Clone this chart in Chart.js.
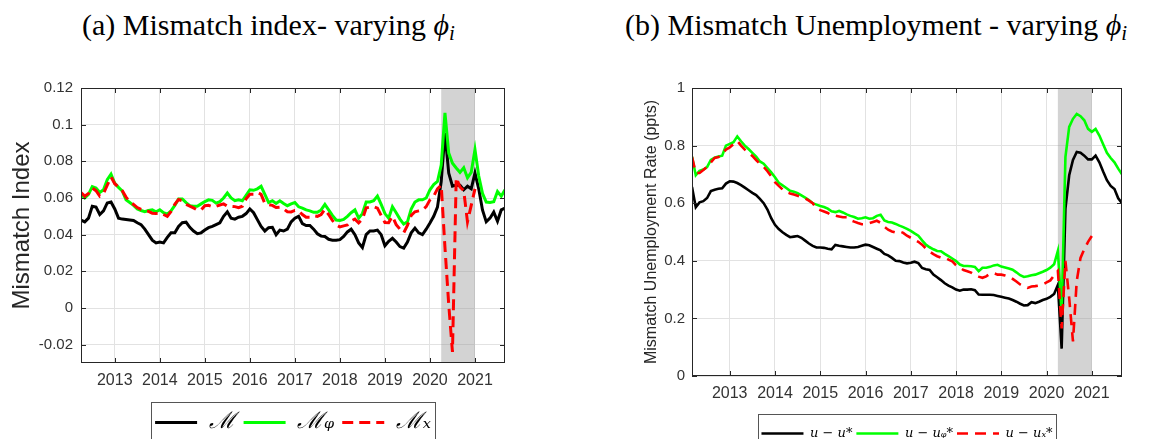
<!DOCTYPE html>
<html>
<head>
<meta charset="utf-8">
<script src="https://cdn.jsdelivr.net/npm/chart.js@4.4.1/dist/chart.umd.min.js"></script>
<style>
  html, body { margin: 0; padding: 0; background: #fff; }
  body { position: relative; width: 1166px; height: 439px; overflow: hidden; }
  .title { position: absolute; top: 10px; font-family: 'Liberation Serif', serif; font-size: 30px; line-height: 1; color: #000; white-space: nowrap; }
  .title sub { font-size: 0.7em; font-style: italic; vertical-align: -0.25em; line-height: 0; }
  canvas { position: absolute; top: 0; }
</style>
</head>
<body>
<div class="title" style="left:82px">(a) Mismatch index- varying <i>ϕ</i><sub>i</sub></div>
<div class="title" style="left:625px">(b) Mismatch Unemployment - varying <i>ϕ</i><sub>i</sub></div>
<canvas id="leftChart" style="left:0" width="560" height="444"></canvas>
<canvas id="rightChart" style="left:590px" width="576" height="450"></canvas>
<script>
// ---- data: monthly, left panel from Apr 2012, right panel from Mar 2012 ----
const leftStart = [2012, 4];
const rightStart = [2012, 3];
const yearTicks = [2013, 2014, 2015, 2016, 2017, 2018, 2019, 2020, 2021];
const leftYTicks = [-0.02, 0, 0.02, 0.04, 0.06, 0.08, 0.1, 0.12];
const rightYTicks = [0, 0.2, 0.4, 0.6, 0.8, 1];
const covidShade = [2020.25, 2021.0];

const leftLabels = ['ℳ', 'ℳᵩ', 'ℳₓ'];
const rightLabels = ['u − u*', 'u − uᵩ*', 'u − uₓ*'];

// Mismatch index
const leftM = [
  0.048, 0.047, 0.049, 0.0555, 0.055, 0.051, 0.053, 0.0573, 0.0578, 0.054,
  0.049, 0.0485, 0.0483, 0.048, 0.0477, 0.0465, 0.0455, 0.043, 0.040, 0.037,
  0.0355, 0.036, 0.0355, 0.0385, 0.041, 0.041, 0.0445, 0.0465, 0.0468, 0.044,
  0.042, 0.0405, 0.041, 0.0425, 0.0438, 0.0445, 0.0455, 0.0465, 0.050, 0.0525,
  0.049, 0.0485, 0.0495, 0.050, 0.0515, 0.054, 0.052, 0.0482, 0.0445, 0.042,
  0.0438, 0.044, 0.040, 0.0425, 0.042, 0.043, 0.047, 0.049, 0.050, 0.046,
  0.045, 0.045, 0.043, 0.0405, 0.0392, 0.039, 0.0375, 0.037, 0.037, 0.0373,
  0.039, 0.0415, 0.043, 0.040, 0.0355, 0.033, 0.040, 0.042, 0.042, 0.0425,
  0.040, 0.034, 0.0364, 0.038, 0.036, 0.0335, 0.0327, 0.036, 0.041, 0.0436,
  0.041, 0.040, 0.043, 0.0464, 0.050, 0.055, 0.069, 0.0955, 0.0736, 0.0665,
  0.067, 0.067, 0.0645, 0.0664, 0.065, 0.0736, 0.065, 0.0535, 0.047, 0.049,
  0.0523, 0.0473, 0.0535, 0.0545
];
const leftPhi = [
  0.062, 0.060, 0.062, 0.0662, 0.0655, 0.063, 0.0645, 0.070, 0.073, 0.068,
  0.0658, 0.0638, 0.059, 0.0575, 0.056, 0.054, 0.0532, 0.0525, 0.0532, 0.0535,
  0.0525, 0.0536, 0.052, 0.0512, 0.053, 0.056, 0.0595, 0.0595, 0.0575, 0.0558,
  0.0555, 0.0555, 0.0568, 0.058, 0.059, 0.0587, 0.0572, 0.058, 0.060, 0.0627,
  0.060, 0.0585, 0.059, 0.0585, 0.0615, 0.0645, 0.0642, 0.065, 0.0664, 0.062,
  0.0575, 0.0585, 0.057, 0.0585, 0.057, 0.0558, 0.0568, 0.0575, 0.0552, 0.0545,
  0.0535, 0.053, 0.0522, 0.0522, 0.0535, 0.0565, 0.0535, 0.0505, 0.048, 0.0478,
  0.0483, 0.050, 0.052, 0.0535, 0.049, 0.0515, 0.0578, 0.0578, 0.0585, 0.061,
  0.0565, 0.0515, 0.049, 0.0552, 0.052, 0.0485, 0.0458, 0.047, 0.054, 0.0578,
  0.059, 0.059, 0.060, 0.0645, 0.0673, 0.069, 0.078, 0.1064, 0.0845, 0.079,
  0.0764, 0.074, 0.0765, 0.071, 0.074, 0.0864, 0.072, 0.0625, 0.0578, 0.0576,
  0.058, 0.0635, 0.061, 0.0645
];
const leftX = [
  0.063, 0.061, 0.0625, 0.0655, 0.064, 0.061, 0.0625, 0.067, 0.0715, 0.0678,
  0.066, 0.064, 0.0605, 0.058, 0.0565, 0.0548, 0.0538, 0.0532, 0.0527, 0.0517,
  0.0515, 0.0518, 0.051, 0.050, 0.0527, 0.0565, 0.0592, 0.0585, 0.0565, 0.0556,
  0.0546, 0.0534, 0.0535, 0.0558, 0.056, 0.0553, 0.0555, 0.0562, 0.0568, 0.0555,
  0.0555, 0.0553, 0.0547, 0.0555, 0.0595, 0.062, 0.062, 0.063, 0.062, 0.057,
  0.0564, 0.056, 0.0548, 0.055, 0.054, 0.0525, 0.0524, 0.0532, 0.053, 0.051,
  0.0495, 0.0495, 0.0503, 0.050, 0.051, 0.0538, 0.051, 0.0478, 0.0453, 0.0442,
  0.0448, 0.0453, 0.0475, 0.0485, 0.0464, 0.0485, 0.0546, 0.055, 0.0553, 0.0545,
  0.0505, 0.0466, 0.0465, 0.050, 0.0455, 0.043, 0.041, 0.045, 0.0505, 0.0525,
  0.053, 0.0535, 0.0553, 0.059, 0.061, 0.065, 0.067, 0.033, 0.002, -0.024,
  0.071, 0.066, 0.064, 0.047, 0.056, 0.065, null, null, null, null,
  null, null, null, null
];

// Mismatch unemployment (ppts)
const rightU = [
  0.656, 0.586, 0.603, 0.607, 0.618, 0.642, 0.647, 0.650, 0.652, 0.668,
  0.676, 0.675, 0.670, 0.663, 0.654, 0.645, 0.636, 0.628, 0.615, 0.600,
  0.578, 0.548, 0.525, 0.510, 0.499, 0.490, 0.482, 0.484, 0.486, 0.480,
  0.470, 0.460, 0.452, 0.446, 0.446, 0.445, 0.442, 0.440, 0.455, 0.452,
  0.450, 0.448, 0.446, 0.446, 0.448, 0.452, 0.456, 0.454, 0.448, 0.442,
  0.436, 0.424, 0.419, 0.410, 0.400, 0.399, 0.394, 0.391, 0.393, 0.397,
  0.392, 0.375, 0.371, 0.368, 0.352, 0.343, 0.333, 0.322, 0.314, 0.308,
  0.300, 0.296, 0.300, 0.300, 0.301, 0.298, 0.283, 0.282, 0.282, 0.282,
  0.281, 0.278, 0.275, 0.272, 0.269, 0.264, 0.258, 0.251, 0.245, 0.246,
  0.256, 0.253, 0.258, 0.264, 0.268, 0.275, 0.285, 0.316, 0.095, 0.580,
  0.697, 0.750, 0.778, 0.775, 0.765, 0.752, 0.752, 0.765, 0.742, 0.710,
  0.680, 0.660, 0.649, 0.617, 0.600
];
const rightPhi = [
  0.761, 0.697, 0.712, 0.717, 0.725, 0.750, 0.758, 0.762, 0.765, 0.800,
  0.806, 0.812, 0.832, 0.815, 0.800, 0.788, 0.775, 0.762, 0.745, 0.737,
  0.722, 0.707, 0.690, 0.671, 0.662, 0.653, 0.643, 0.640, 0.635, 0.627,
  0.619, 0.611, 0.600, 0.595, 0.590, 0.587, 0.581, 0.572, 0.569, 0.573,
  0.568, 0.561, 0.556, 0.552, 0.546, 0.548, 0.551, 0.546, 0.548, 0.556,
  0.560, 0.540, 0.535, 0.533, 0.528, 0.522, 0.517, 0.511, 0.504, 0.495,
  0.487, 0.471, 0.456, 0.447, 0.440, 0.434, 0.433, 0.424, 0.416, 0.408,
  0.399, 0.387, 0.382, 0.382, 0.381, 0.379, 0.364, 0.376, 0.376, 0.379,
  0.384, 0.386, 0.380, 0.377, 0.373, 0.369, 0.360, 0.350, 0.344, 0.346,
  0.350, 0.352, 0.357, 0.362, 0.368, 0.376, 0.388, 0.435, 0.215, 0.760,
  0.865, 0.893, 0.910, 0.902, 0.888, 0.858, 0.848, 0.858, 0.835, 0.805,
  0.775, 0.757, 0.742, 0.720, 0.700
];
const rightX = [
  0.761, 0.705, 0.705, 0.715, 0.726, 0.742, 0.757, 0.760, 0.772, 0.786,
  0.794, 0.805, 0.816, 0.800, 0.786, 0.775, 0.764, 0.750, 0.737, 0.726,
  0.711, 0.693, 0.673, 0.660, 0.648, 0.639, 0.634, 0.630, 0.626, 0.621,
  0.617, 0.609, 0.600, 0.582, 0.576, 0.571, 0.566, 0.557, 0.557, 0.554,
  0.551, 0.551, 0.541, 0.536, 0.531, 0.527, 0.527, 0.531, 0.535, 0.539,
  0.532, 0.518, 0.508, 0.502, 0.498, 0.502, 0.497, 0.487, 0.480, 0.473,
  0.466, 0.456, 0.443, 0.432, 0.423, 0.416, 0.411, 0.411, 0.404, 0.398,
  0.385, 0.376, 0.368, 0.364, 0.359, 0.351, 0.345, 0.341, 0.346, 0.355,
  0.357, 0.352, 0.352, 0.349, 0.345, 0.337, 0.328, 0.318, 0.311, 0.306,
  0.311, 0.312, 0.314, 0.318, 0.325, 0.332, 0.350, 0.365, 0.165, 0.400,
  0.270, 0.120, 0.330, 0.410, 0.440, 0.466, 0.486, null, null, null,
  null, null, null, null, null
];

// ---- drawing helpers ----
const axisColor = '#262626';
const gridColor = '#e2e2e2';

function monthX(start, i) {
  return start[0] + (start[1] - 1 + i) / 12;
}

function toPoints(start, values) {
  return values.map((v, i) => ({ x: monthX(start, i), y: v }));
}

// grey band for the shaded period
const shadePlugin = {
  id: 'shade',
  beforeDatasetsDraw(chart, args, opts) {
    const { ctx, chartArea: a, scales: { x } } = chart;
    const x0 = x.getPixelForValue(opts.from);
    const x1 = x.getPixelForValue(opts.to);
    ctx.save();
    ctx.fillStyle = opts.color;
    ctx.fillRect(x0, a.top, x1 - x0, a.bottom - a.top);
    ctx.restore();
  }
};

// matlab style box with inward tick marks
const axesBoxPlugin = {
  id: 'axesBox',
  afterDatasetsDraw(chart) {
    const { ctx, chartArea: a, scales: { x, y } } = chart;
    const len = 5;
    ctx.save();
    ctx.strokeStyle = axisColor;
    ctx.lineWidth = 1;
    ctx.beginPath();
    x.ticks.forEach(t => {
      const px = Math.round(x.getPixelForValue(t.value)) + 0.5;
      ctx.moveTo(px, a.bottom); ctx.lineTo(px, a.bottom - len);
      ctx.moveTo(px, a.top); ctx.lineTo(px, a.top + len);
    });
    y.ticks.forEach(t => {
      const py = Math.round(y.getPixelForValue(t.value)) + 0.5;
      ctx.moveTo(a.left, py); ctx.lineTo(a.left + len, py);
      ctx.moveTo(a.right, py); ctx.lineTo(a.right - len, py);
    });
    ctx.stroke();
    ctx.strokeRect(Math.round(a.left) + 0.5, Math.round(a.top) + 0.5,
      Math.round(a.right - a.left) - 1, Math.round(a.bottom - a.top) - 1);
    ctx.restore();
  }
};

// frame around the legend (bottom edge falls off the page)
const legendFramePlugin = {
  id: 'legendFrame',
  afterDraw(chart, args, opts) {
    const lg = chart.legend;
    const hb = lg && lg.legendHitBoxes;
    if (!hb || !hb.length) return;
    const first = hb[0];
    const last = hb[hb.length - 1];
    const left = Math.round(first.left - opts.padX) + 0.5;
    const right = Math.round(last.left + last.width + opts.padX) + 0.5;
    const top = Math.round(lg.top + opts.offsetTop) + 0.5;
    const ctx = chart.ctx;
    ctx.save();
    ctx.strokeStyle = '#555';
    ctx.lineWidth = 1;
    ctx.strokeRect(left, top, right - left, chart.height - top + 20);
    ctx.restore();
  }
};

function makeChart(canvasId, s) {
  const colors = ['#000000', '#00ff00', '#ff0000'];
  const datasets = s.series.map((vals, k) => ({
    label: s.labels[k],
    data: toPoints(s.start, vals),
    borderColor: colors[k],
    backgroundColor: colors[k],
    borderWidth: s.lineWidth,
    borderDash: k === 2 ? s.dash : [],
    pointRadius: 0,
    tension: 0,
    spanGaps: false,
    order: 3 - k
  }));
  const xMin = monthX(s.start, 0);
  const xMax = monthX(s.start, s.series[0].length - 1);

  return new Chart(document.getElementById(canvasId), {
    type: 'line',
    data: { datasets },
    options: {
      responsive: false,
      animation: false,
      layout: { padding: s.padding },
      scales: {
        x: {
          type: 'linear',
          min: xMin,
          max: xMax,
          afterBuildTicks: sc => { sc.ticks = yearTicks.map(v => ({ value: v })); },
          afterFit: sc => { sc.height = s.xHeight; },
          ticks: {
            autoSkip: false,
            maxRotation: 0,
            padding: 8,
            color: '#333',
            font: { family: "'Liberation Sans', Arial, sans-serif", size: 16 },
            callback: v => String(v)
          },
          grid: { color: gridColor, drawTicks: false },
          border: { display: false }
        },
        y: {
          min: s.yMin,
          max: s.yMax,
          afterBuildTicks: sc => { sc.ticks = s.yTicks.map(v => ({ value: v })); },
          afterFit: sc => { sc.width = s.yWidth; },
          ticks: {
            padding: s.yTickPad,
            color: '#333',
            font: { family: "'Liberation Sans', Arial, sans-serif", size: 15 },
            callback: v => String(Number(v.toFixed(2)))
          },
          grid: { color: gridColor, drawTicks: false },
          border: { display: false },
          title: {
            display: true,
            text: s.yTitle,
            color: axisColor,
            padding: { top: s.yTitlePad, bottom: 0 },
            font: { family: "'Liberation Sans', Arial, sans-serif", size: s.yTitleSize }
          }
        }
      },
      plugins: {
        tooltip: { enabled: false },
        shade: { from: covidShade[0], to: covidShade[1], color: 'rgba(150,150,150,0.42)' },
        legendFrame: { padX: s.framePadX, offsetTop: s.frameOffset },
        legend: {
          position: 'bottom',
          fullSize: false,
          labels: {
            usePointStyle: true,
            pointStyleWidth: 42,
            padding: s.legendPad,
            color: s.legendColor,
            font: { family: "'DejaVu Serif', serif", size: s.legendSize, style: 'italic' },
            generateLabels: chart => chart.data.datasets.map((ds, i) => ({
              text: ds.label,
              fillStyle: ds.borderColor,
              strokeStyle: ds.borderColor,
              lineWidth: ds.borderWidth,
              lineDash: ds.borderDash,
              pointStyle: 'line',
              hidden: false,
              datasetIndex: i
            }))
          }
        }
      }
    },
    plugins: [shadePlugin, axesBoxPlugin, legendFramePlugin]
  });
}

// left: legend 23px + pad 8 -> height 41, top 403, line centre 422.5
makeChart('leftChart', {
  start: leftStart,
  series: [leftM, leftPhi, leftX],
  labels: leftLabels,
  yMin: -0.03, yMax: 0.12, yTicks: leftYTicks,
  yTitle: 'Mismatch Index', yTitleSize: 24, yTitlePad: 8,
  yWidth: 81, yTickPad: 8, xHeight: 40,
  padding: { top: 88, right: 55, left: 0, bottom: 0 },
  lineWidth: 3, dash: [11, 6],
  legendSize: 23, legendPad: 8, legendColor: '#000', frameOffset: -1, framePadX: 4
});

// right: legend 13px + pad 6 -> height 29, top 421, line centre 433.5
makeChart('rightChart', {
  start: rightStart,
  series: [rightU, rightPhi, rightX],
  labels: rightLabels,
  yMin: 0, yMax: 1, yTicks: rightYTicks,
  yTitle: 'Mismatch Unemployment Rate (ppts)', yTitleSize: 16, yTitlePad: 52,
  yWidth: 102, yTickPad: 7, xHeight: 47,
  padding: { top: 88, right: 44, left: 0, bottom: 0 },
  lineWidth: 2.6, dash: [11, 7],
  legendSize: 13, legendPad: 4, legendColor: '#444', frameOffset: -9, framePadX: 3
});
</script>
</body>
</html>
